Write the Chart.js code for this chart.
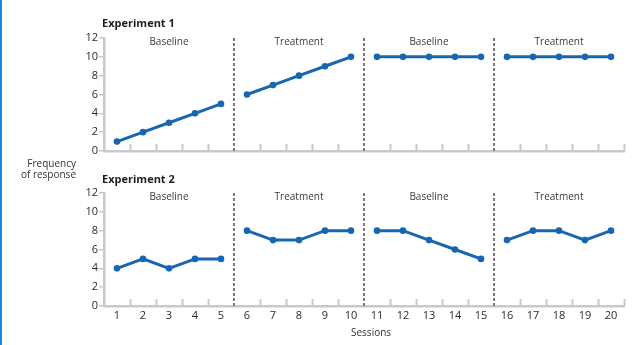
<!DOCTYPE html>
<html lang="en">
<head>
  <meta charset="UTF-8">
  <title>Experiments 1 and 2</title>
  <script src="https://cdn.jsdelivr.net/npm/chart.js@4.4.1/dist/chart.umd.min.js"></script>
  <style>
    * { margin: 0; padding: 0; box-sizing: border-box; }
    body {
      width: 644px;
      height: 345px;
      background: #fff;
      font-family: 'Open Sans', sans-serif;
      color: #333;
      position: relative;
      overflow: hidden;
      border-left: 2px solid #1a86e0;
    }
    .box { position: absolute; left: 0; width: 644px; }
    #box1 { top: 0; height: 160px; }
    #box2 { top: 155px; height: 190px; }
    .exp {
      position: absolute;
      left: 100px;
      font-size: 11px;
      font-weight: bold;
      color: #1e1e1e;
    }
    .ylab {
      position: absolute;
      right: 568px;
      top: 158px;
      font-size: 10px;
      line-height: 11px;
      text-align: right;
      color: #333;
    }
    .xlab {
      position: absolute;
      left: 349px;
      top: 325px;
      font-size: 10px;
      color: #333;
    }
  </style>
</head>
<body>
  <div class="box" id="box1"><canvas id="chart1"></canvas></div>
  <div class="box" id="box2"><canvas id="chart2"></canvas></div>
  <div class="exp" style="top:15px">Experiment 1</div>
  <div class="exp" style="top:171px">Experiment 2</div>
  <div class="ylab">Frequency<br>of response</div>
  <div class="xlab">Sessions</div>

  <script>
    const sessions = [1,2,3,4,5,6,7,8,9,10,11,12,13,14,15,16,17,18,19,20];
    const exp1 = [1,2,3,4,5, 6,7,8,9,10, 10,10,10,10,10, 10,10,10,10,10];
    const exp2 = [4,5,4,5,5, 8,7,7,8,8, 8,8,7,6,5, 7,8,8,7,8];
    const phaseLabels = ['Baseline', 'Treatment', 'Baseline', 'Treatment'];
    const phaseEdges = [0.5, 5.5, 10.5, 15.5, 20.5];
    const yTicks = [0, 2, 4, 6, 8, 10, 12];

    const blue = '#1766b1';
    const axisGray = '#c9c9c9';

    // dashed phase lines, inner tick marks and phase names
    const phasePlugin = {
      id: 'phases',
      afterDraw(chart) {
        const ctx = chart.ctx;
        const x = chart.scales.x;
        const area = chart.chartArea;
        ctx.save();
        // small ticks standing on the x axis between sessions
        ctx.strokeStyle = axisGray;
        ctx.lineWidth = 2;
        for (let s = 1.5; s <= 20.5; s += 1) {
          if (phaseEdges.slice(1, 4).includes(s)) continue;
          const px = Math.round(x.getPixelForValue(s)) + 0.5;
          ctx.beginPath();
          ctx.moveTo(px, area.bottom);
          ctx.lineTo(px, area.bottom - 7);
          ctx.stroke();
        }
        // dashed separators
        ctx.strokeStyle = '#7a7a7a';
        ctx.lineWidth = 2;
        ctx.setLineDash([3, 2]);
        phaseEdges.slice(1, 4).forEach(e => {
          const px = Math.round(x.getPixelForValue(e));
          ctx.beginPath();
          ctx.moveTo(px, area.top);
          ctx.lineTo(px, area.bottom);
          ctx.stroke();
        });
        ctx.setLineDash([]);
        // phase names
        ctx.fillStyle = '#3a3a3a';
        ctx.font = '10px "Open Sans"';
        ctx.textAlign = 'center';
        ctx.textBaseline = 'middle';
        phaseLabels.forEach((name, i) => {
          const mid = (phaseEdges[i] + phaseEdges[i + 1]) / 2;
          ctx.fillText(name, x.getPixelForValue(mid), area.top + 4);
        });
        ctx.restore();
      }
    };

    function makeChart(id, values, showX) {
      const points = sessions.map((s, i) => ({ x: s, y: values[i] }));
      const crosses = c => phaseEdges.some(e => c.p0.parsed.x < e && c.p1.parsed.x > e);
      return new Chart(document.getElementById(id), {
        type: 'line',
        data: {
          datasets: [{
            data: points,
            borderColor: blue,
            backgroundColor: blue,
            borderWidth: 3,
            pointRadius: 3.3,
            pointBorderWidth: 0,
            pointHoverRadius: 3.3,
            tension: 0,
            segment: { borderColor: c => crosses(c) ? 'transparent' : blue }
          }]
        },
        options: {
          responsive: true,
          maintainAspectRatio: false,
          animation: false,
          layout: { padding: { left: 72, right: 22, top: 38, bottom: showX ? 19 : 9 } },
          plugins: { legend: { display: false }, tooltip: { enabled: false } },
          scales: {
            x: {
              type: 'linear',
              min: 0.5,
              max: 20.5,
              afterBuildTicks: s => { s.ticks = sessions.map(v => ({ value: v })); },
              afterFit: s => { s.height = showX ? 20 : 0; },
              grid: { display: false, drawTicks: false },
              border: { display: true, color: axisGray, width: 2.5 },
              ticks: {
                display: showX,
                padding: 3,
                color: '#2a2a2a',
                font: { family: 'Open Sans', size: 11 },
                maxRotation: 0,
                autoSkip: false
              }
            },
            y: {
              min: 0,
              max: 12,
              afterBuildTicks: s => { s.ticks = yTicks.map(v => ({ value: v })); },
              afterFit: s => { s.width = 30; },
              grid: { drawOnChartArea: false, drawTicks: true, tickLength: 5, color: axisGray, lineWidth: 1.5 },
              border: { display: true, color: axisGray, width: 2.5 },
              ticks: {
                padding: 1,
                color: '#2a2a2a',
                font: { family: 'Open Sans', size: 11 }
              }
            }
          }
        },
        plugins: [phasePlugin]
      });
    }

    makeChart('chart1', exp1, false);
    makeChart('chart2', exp2, true);
  </script>
</body>
</html>
